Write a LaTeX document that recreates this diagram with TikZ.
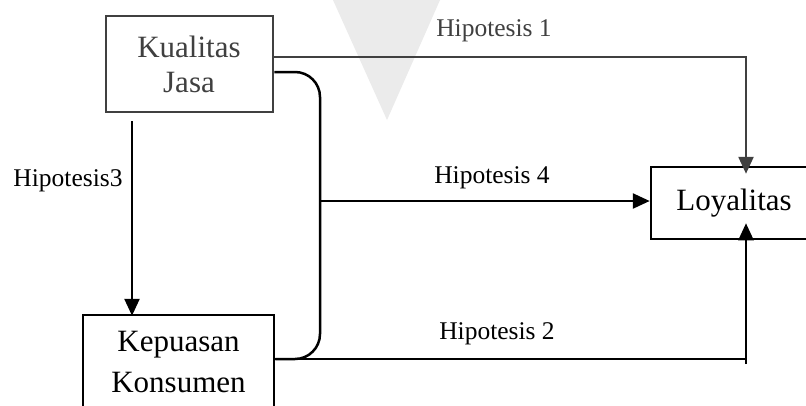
\documentclass[tikz,border=0pt]{standalone}
\usepackage{fontspec}
\setmainfont{Liberation Serif}
\usetikzlibrary{arrows.meta,calc}
\definecolor{gdark}{HTML}{404040}
\tikzset{
  boxg/.style={draw=gdark,line width=2.5pt,rectangle,inner sep=0pt},
  boxk/.style={draw=black,line width=2.5pt,rectangle,inner sep=0pt},
  boxtxtg/.style={text=gdark,font=\fontsize{31}{35}\selectfont,anchor=base,inner sep=0pt},
  boxtxt/.style={text=black,font=\fontsize{31}{35}\selectfont,anchor=base,inner sep=0pt},
  lbl/.style={text=black,font=\fontsize{25.5}{28}\selectfont,anchor=base,inner sep=0pt},
  lblg/.style={text=gdark,font=\fontsize{25.5}{28}\selectfont,anchor=base,inner sep=0pt},
  conn/.style={draw=black,line width=2.5pt},
  conng/.style={draw=gdark,line width=2.5pt},
  arr/.style={conn,-{Triangle[length=17pt,width=15pt]}},
  arrg/.style={conng,-{Triangle[length=17pt,width=15pt]}},
}
\begin{document}
\begin{tikzpicture}[x=1pt,y=-1pt]
\useasboundingbox[fill=white] (0,0) rectangle (806,405);
% faint watermark
\fill[black!8] (333,0) -- (440,0) -- (387,120) -- cycle;
% boxes
\node[boxg,minimum width=167pt,minimum height=96pt] (kj) at (189.5,64) {};
\node[boxk,minimum width=191pt,minimum height=105pt] (kp) at (178.5,367.5) {};
\node[boxk,minimum width=166pt,minimum height=72pt] (ly) at (734,203) {};
% box texts
\node[boxtxtg] (kjt1) at (189,57) {Kualitas};
\node[boxtxtg] (kjt2) at (189,92) {Jasa};
\node[boxtxt] (kpt1) at (178.5,351) {Kepuasan};
\node[boxtxt] (kpt2) at (178.5,392) {Konsumen};
\node[boxtxt] (lyt) at (734,210) {Loyalitas};
% coordinates
\coordinate (kjr1) at ([yshift=7pt]kj.east);
\coordinate (kjr2) at ([yshift=-8pt]kj.east);
\coordinate (kpr) at ([yshift=8.5pt]kp.east);
\coordinate (vb) at (320,359);
\coordinate (j4) at (320,201);
\coordinate (lytop) at ([xshift=12pt,yshift=-8pt]ly.north);
\coordinate (lybot) at ([xshift=12pt,yshift=17pt]ly.south);
\coordinate (stub) at (746,364);
% connectors
\draw[arrg] (kjr1) -| (lytop);
\draw[conn,rounded corners=25pt] (kjr2) -| (vb) -- (kpr);
\draw[arr] (j4) -- (j4 -| ly.west);
\draw[conn] (kpr) -- (kpr -| lybot);
\draw[arr] (stub) -- (lybot);
\draw[arr] ([xshift=-57.5pt,yshift=-8pt]kj.south) -- ([xshift=-46.5pt,yshift=-2pt]kp.north);
% labels
\node[lblg] (h1) at (494,36) {Hipotesis 1};
\node[lbl] (h4) at (492,183) {Hipotesis 4};
\node[lbl] (h2) at (497,339) {Hipotesis 2};
\node[lbl] (h3) at (68,186) {Hipotesis3};
\end{tikzpicture}
\end{document}
